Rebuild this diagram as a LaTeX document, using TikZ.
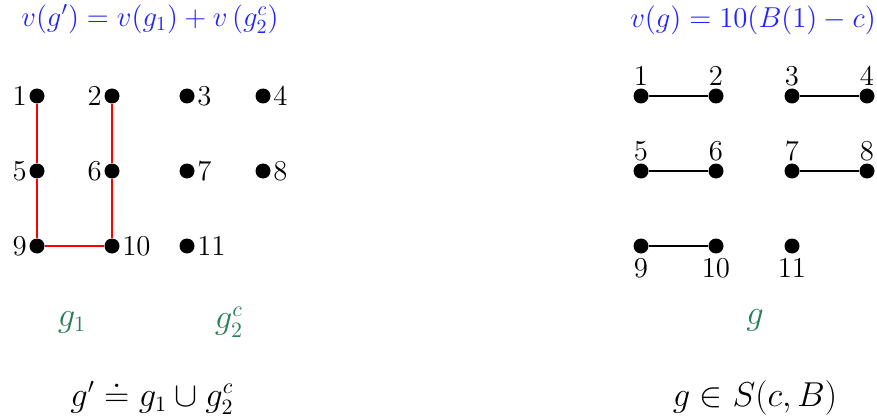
\documentclass[tikz,border=0pt]{standalone}
\usepackage{amsmath,amssymb}
\definecolor{lblgreen}{RGB}{40,128,85}
\definecolor{ttlblue}{RGB}{35,35,255}
\begin{document}
\begin{tikzpicture}[x=0.5pt,y=-0.5pt,
  dot/.style={circle,fill=black,inner sep=0pt,minimum size=7.5pt},
  numlab/.style={font=\fontsize{14.4}{16}\selectfont,inner sep=1pt},
  numlabb/.style={numlab,inner sep=2.5pt},
  ttl/.style={font=\fontsize{14}{16}\selectfont,text=ttlblue},
  grp/.style={font=\fontsize{16}{18}\selectfont,text=lblgreen},
  bot/.style={font=\fontsize{16}{18}\selectfont},
  redge/.style={red,line width=0.8pt},
  bedge/.style={black,line width=0.8pt},
  label distance=0pt]
\useasboundingbox (0,0) rectangle (877,417);
% left graph
\node[dot,label={[numlab]left:$1$}]  (a1)  at (37,96) {};
\node[dot,label={[numlab]left:$2$}]  (a2)  at (112,96) {};
\node[dot,label={[numlab]right:$3$}] (a3)  at (187,96) {};
\node[dot,label={[numlab]right:$4$}] (a4)  at (263,96) {};
\node[dot,label={[numlab]left:$5$}]  (a5)  at (37,171) {};
\node[dot,label={[numlab]left:$6$}]  (a6)  at (112,171) {};
\node[dot,label={[numlab]right:$7$}] (a7)  at (187,171) {};
\node[dot,label={[numlab]right:$8$}] (a8)  at (263,171) {};
\node[dot,label={[numlab]left:$9$}]  (a9)  at (37,246) {};
\node[dot,label={[numlab]right:$10$}] (a10) at (112,246) {};
\node[dot,label={[numlab]right:$11$}] (a11) at (187,246) {};
\draw[redge] (a1) -- (a5) -- (a9) -- (a10) -- (a6) -- (a2);
% right graph
\node[dot,label={[numlab]above:$1$}]  (b1)  at (641,96) {};
\node[dot,label={[numlab]above:$2$}]  (b2)  at (716,96) {};
\node[dot,label={[numlab]above:$3$}]  (b3)  at (792,96) {};
\node[dot,label={[numlab]above:$4$}]  (b4)  at (867,96) {};
\node[dot,label={[numlab]above:$5$}]  (b5)  at (641,171) {};
\node[dot,label={[numlab]above:$6$}]  (b6)  at (716,171) {};
\node[dot,label={[numlab]above:$7$}]  (b7)  at (792,171) {};
\node[dot,label={[numlab]above:$8$}]  (b8)  at (867,171) {};
\node[dot,label={[numlabb]below:$9$}]  (b9)  at (641,246) {};
\node[dot,label={[numlabb]below:$10$}] (b10) at (716,246) {};
\node[dot,label={[numlabb]below:$11$}] (b11) at (792,246) {};
\draw[bedge] (b1) -- (b2);
\draw[bedge] (b3) -- (b4);
\draw[bedge] (b5) -- (b6);
\draw[bedge] (b7) -- (b8);
\draw[bedge] (b9) -- (b10);
% titles
\node[ttl] (t1) at (150,19) {$v(g') = v(g_1) + v\left(g_2^c\right)$};
\node[ttl] (t2) at (753,20) {$v(g) = 10(B(1) - c)$};
% group labels
\node[grp] (g1) at (72,322) {$g_1$};
\node[grp] (g2) at (229,322) {$g_2^c$};
\node[grp] (g)  at (755,320) {$g$};
% bottom formulas
\node[bot] (f1) at (152,398) {$g' \doteq g_1 \cup g_2^c$};
\node[bot] (f2) at (755,398) {$g \in S(c,B)$};
\end{tikzpicture}
\end{document}
